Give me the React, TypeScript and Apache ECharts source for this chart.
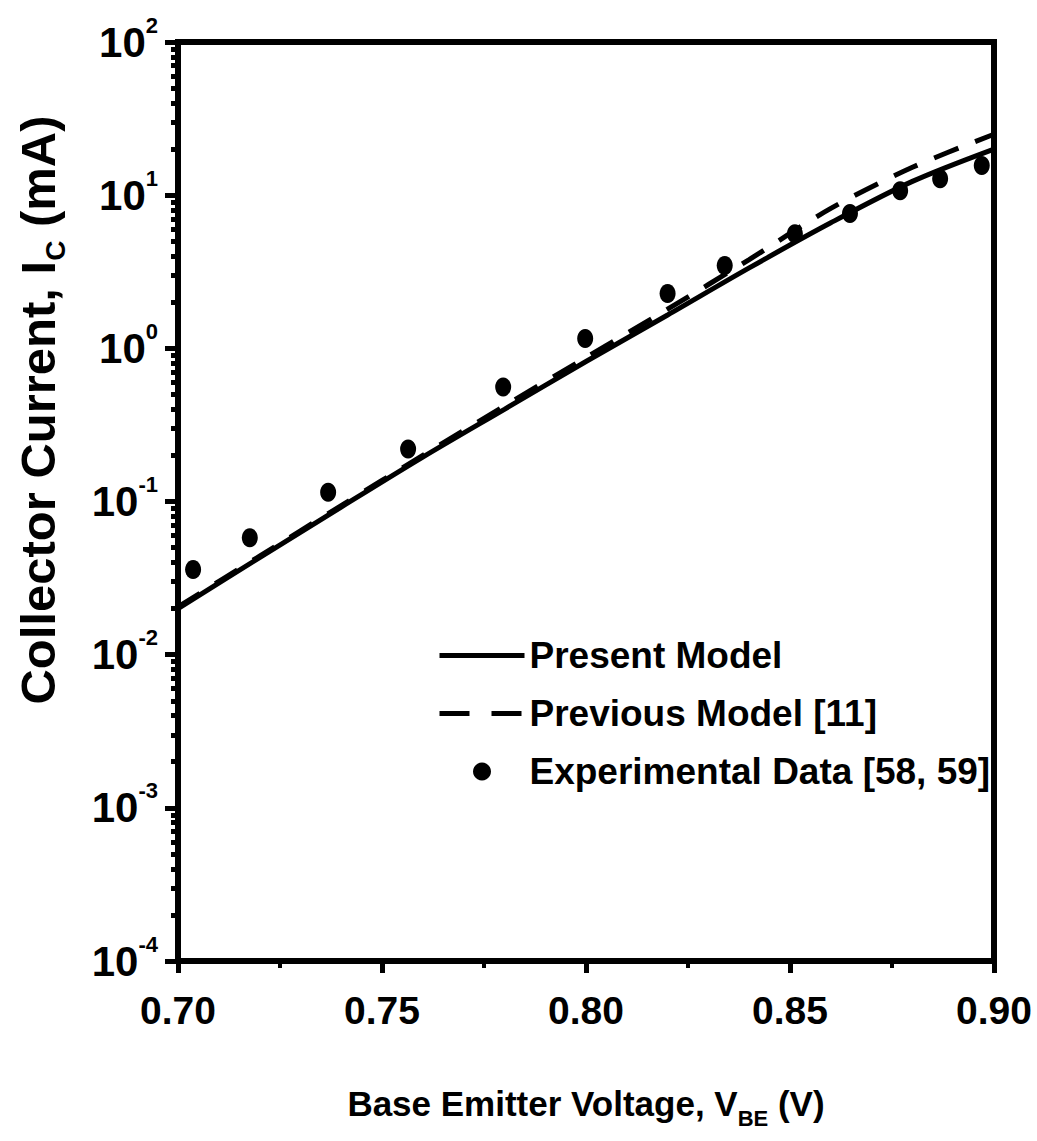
import React, { useEffect, useRef } from 'react';
import * as echarts from 'echarts';

// Model curves: base-emitter voltage (V) vs collector current (mA)
const vbe = [0.70, 0.72, 0.74, 0.76, 0.78, 0.80, 0.82, 0.84, 0.86, 0.88, 0.90];
const presentModel = [0.020, 0.043, 0.092, 0.195, 0.40, 0.82, 1.65, 3.35, 6.6, 12.3, 20.0];
const previousModel = [0.0205, 0.044, 0.094, 0.20, 0.42, 0.87, 1.80, 3.8, 8.2, 15.2, 25.0];

// Experimental data [58, 59]
const expV = [0.7037, 0.7176, 0.7368, 0.7564, 0.7797, 0.7998, 0.8200, 0.8340, 0.8512, 0.8647, 0.8770, 0.8868, 0.8970];
const expI = [0.036, 0.058, 0.115, 0.22, 0.56, 1.16, 2.28, 3.47, 5.6, 7.6, 10.7, 12.8, 15.6];

const seriesNames = ['Present Model', 'Previous Model [11]', 'Experimental Data [58, 59]'];
const yDecades = [-4, -3, -2, -1, 0, 1, 2];

const NARROW = '"Liberation Sans Narrow", "Arial Narrow", "Liberation Sans", Arial, sans-serif';
const WIDE = '"Liberation Sans", Arial, sans-serif';

export default function App() {
  const ref = useRef<HTMLDivElement>(null);
  useEffect(() => {
    if (!ref.current) return;
    const chart = echarts.init(ref.current, null, { renderer: 'svg' });
    const minorY: number[] = [];
    yDecades.slice(0, -1).forEach((d) => {
      for (let m = 2; m <= 9; m++) minorY.push(m * Math.pow(10, d));
    });
    const yMin = Math.pow(10, yDecades[0]);
    const yMax = Math.pow(10, yDecades[yDecades.length - 1]);
    const black = '#000';
    const option: any = {
      animation: false,
      backgroundColor: '#fff',
      grid: {
        left: 178,
        right: 43,
        top: 42,
        bottom: 180,
        show: true,
        borderColor: black,
        borderWidth: 6,
        backgroundColor: 'transparent',
      },
      xAxis: {
        type: 'value',
        min: 0.7,
        max: 0.9,
        interval: 0.05,
        axisLine: { show: true, lineStyle: { color: black, width: 6 } },
        axisTick: { show: true, inside: false, length: 12, lineStyle: { color: black, width: 5 } },
        minorTick: { show: true, splitNumber: 2, length: 7, lineStyle: { color: black, width: 4 } },
        splitLine: { show: false },
        axisLabel: {
          margin: 30,
          color: black,
          fontFamily: NARROW,
          fontWeight: 'bold',
          fontSize: 39,
          formatter: (v: number) => v.toFixed(2),
        },
        name: '{t|Base Emitter Voltage, V}{s|BE}{t| (V)}',
        nameLocation: 'middle',
        nameGap: 116,
        nameTextStyle: {
          rich: {
            t: { fontFamily: NARROW, fontWeight: 'bold', fontSize: 35, color: black, lineHeight: 52 },
            s: { fontFamily: NARROW, fontWeight: 'bold', fontSize: 22, color: black, lineHeight: 22, verticalAlign: 'bottom' },
          },
        },
      },
      yAxis: [
        {
          type: 'log',
          logBase: 10,
          min: yMin,
          max: yMax,
          interval: 1,
          axisLine: { show: true, lineStyle: { color: black, width: 6 } },
          axisTick: { show: true, inside: false, length: 13, lineStyle: { color: black, width: 5 } },
          splitLine: { show: false },
          axisLabel: {
            margin: 20,
            formatter: (v: number) => `{b|10}{s|${Math.round(Math.log10(v))}}`,
            rich: {
              b: { fontFamily: NARROW, fontWeight: 'bold', fontSize: 42, color: black, lineHeight: 56 },
              s: { fontFamily: NARROW, fontWeight: 'bold', fontSize: 22, color: black, lineHeight: 22, verticalAlign: 'top' },
            },
          },
        },
        {
          type: 'log',
          logBase: 10,
          min: yMin,
          max: yMax,
          position: 'left',
          axisLine: { show: false },
          axisTick: { show: true, inside: false, length: 7, customValues: minorY, lineStyle: { color: black, width: 5 } },
          axisLabel: { show: false },
          splitLine: { show: false },
        },
      ],
      legend: {
        orient: 'vertical',
        left: 432,
        top: 632,
        itemGap: 21,
        itemWidth: 85,
        itemHeight: 18,
        textStyle: { fontFamily: NARROW, fontWeight: 'bold', fontSize: 37, color: black },
        data: [
          { name: seriesNames[0], itemStyle: { opacity: 0 }, lineStyle: { width: 5, color: black } },
          { name: seriesNames[1], itemStyle: { opacity: 0 }, lineStyle: { width: 5, color: black, type: [30, 22] } },
          { name: seriesNames[2], itemStyle: { color: black, opacity: 1 } },
        ],
      },
      graphic: [
        {
          type: 'text',
          x: 38,
          y: 410,
          rotation: Math.PI / 2,
          style: {
            text: '{t|Collector Current, I}{s|C}{t| (mA)}',
            align: 'center',
            verticalAlign: 'middle',
            rich: {
              t: { fontFamily: WIDE, fontWeight: 'bold', fontSize: 49, fill: black, lineHeight: 62 },
              s: { fontFamily: WIDE, fontWeight: 'bold', fontSize: 28, fill: black, lineHeight: 28, verticalAlign: 'bottom' },
            },
          },
        },
      ],
      series: [
        {
          name: seriesNames[0],
          type: 'line',
          data: vbe.map((v, i) => [v, presentModel[i]]),
          smooth: 0.3,
          symbol: 'none',
          lineStyle: { color: black, width: 5 },
          itemStyle: { color: black },
          z: 3,
        },
        {
          name: seriesNames[1],
          type: 'line',
          data: vbe.map((v, i) => [v, previousModel[i]]),
          smooth: 0.3,
          symbol: 'none',
          lineStyle: { color: black, width: 5, type: [26, 18] },
          itemStyle: { color: black },
          z: 3,
        },
        {
          name: seriesNames[2],
          type: 'scatter',
          data: expV.map((v, i) => [v, expI[i]]),
          symbol: 'circle',
          symbolSize: [16, 19],
          itemStyle: { color: black, opacity: 1 },
          z: 4,
        },
      ],
    };
    chart.setOption(option);
    return () => chart.dispose();
  }, []);
  return (
    <div
      ref={ref}
      style={{ position: 'absolute', left: 0, top: 0, width: 1037, height: 1141, background: '#fff' }}
    />
  );
}
